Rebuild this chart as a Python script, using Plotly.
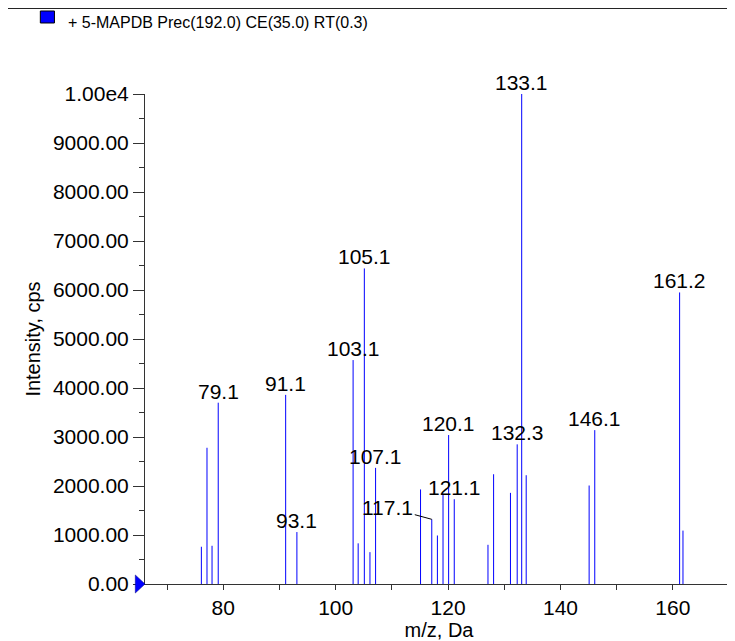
import plotly.graph_objects as go

# ---- data ----
mz = [76.1, 77.1, 78.0, 79.1, 91.1, 93.1, 103.1, 104.0, 105.1, 106.1, 107.1,
      115.1, 117.1, 118.1, 119.1, 120.1, 121.1, 127.1, 128.1, 131.1, 132.3,
      133.1, 133.9, 145.1, 146.1, 161.2, 161.8]
intensity = [760, 2780, 780, 3700, 3860, 1060, 4570, 830, 6440, 650, 2370,
             1930, 1320, 990, 1820, 3040, 1730, 800, 2240, 1860, 2850,
             10000, 2220, 2010, 3140, 5950, 1090]
label_mz = [79.1, 91.1, 93.1, 103.1, 105.1, 107.1, 117.1, 120.1, 121.1,
            132.3, 133.1, 146.1, 161.2]
leader_mz = [117.1]
y_tickvals = [0, 1000, 2000, 3000, 4000, 5000, 6000, 7000, 8000, 9000, 10000]
y_ticktext = ["0.00", "1000.00", "2000.00", "3000.00", "4000.00", "5000.00",
              "6000.00", "7000.00", "8000.00", "9000.00", "1.00e4"]
x_tickvals = [70, 80, 90, 100, 110, 120, 130, 140, 150, 160, 170]
x_ticktext = ["", "80", "", "100", "", "120", "", "140", "", "160", ""]
legend_text = "+ 5-MAPDB Prec(192.0) CE(35.0) RT(0.3)"

x_range = [66.07, 170.7]
y_range = [0, 10000]

FONT = "Liberation Sans, Arial, sans-serif"
BLUE = "#0000ff"

xs, ys = [], []
for m, h in zip(mz, intensity):
    xs += [m, m, None]
    ys += [0, h, None]

fig = go.Figure()
fig.add_trace(go.Scatter(x=xs, y=ys, mode="lines",
                         line=dict(color=BLUE, width=1),
                         showlegend=False, hoverinfo="skip"))

lookup = dict(zip(mz, intensity))
annotations = []
for m in label_mz:
    h = lookup[m]
    if m in leader_mz:
        annotations.append(dict(x=m, y=h, xref="x", yref="y", text=f"{m:.1f}",
                                showarrow=True, arrowhead=0, arrowwidth=1,
                                arrowcolor="#000000", ax=-44, ay=-12,
                                font=dict(family=FONT, size=21, color="#000000")))
    else:
        annotations.append(dict(x=m, y=h, xref="x", yref="y", text=f"{m:.1f}",
                                showarrow=False, yanchor="bottom", yshift=-2,
                                font=dict(family=FONT, size=21, color="#000000")))

# plot area: 588 x 490 px
annotations.append(dict(x=-0.135, y=1.1449, xref="paper", yref="paper",
                        text=legend_text, showarrow=False, xanchor="left",
                        yanchor="middle",
                        font=dict(family=FONT, size=16, color="#000000")))

shapes = [
    # legend swatch
    dict(type="rect", xref="paper", yref="paper",
         x0=-0.178, x1=-0.154, y0=1.1694, y1=1.1449,
         fillcolor=BLUE, line=dict(color="#000000", width=1)),
    # top border line
    dict(type="line", xref="paper", yref="paper",
         x0=-0.26, x1=1.01, y0=1.1745, y1=1.1745,
         line=dict(color="#222222", width=1)),
    # zero-level marker on the intensity axis
    dict(type="path", xref="paper", yref="paper",
         path="M -0.0165,0.0184 L 0,0 L -0.0165,-0.0184 Z",
         fillcolor=BLUE, line=dict(color="#000080", width=0.5)),
]

# the page body adds an 8px offset, so the figure is 8px smaller
fig.update_layout(
    width=727, height=633,
    margin=dict(l=137, r=2, t=86, b=57),
    paper_bgcolor="white", plot_bgcolor="white",
    font=dict(family=FONT, color="#000000"),
    annotations=annotations, shapes=shapes,
    showlegend=False,
)
fig.update_xaxes(range=x_range, tickmode="array", tickvals=x_tickvals,
                 ticktext=x_ticktext, ticks="outside", ticklen=5,
                 tickcolor="#333333", showline=True, linecolor="#333333",
                 linewidth=1, showgrid=False, zeroline=False,
                 tickfont=dict(family=FONT, size=21),
                 title=dict(text="m/z, Da", font=dict(family=FONT, size=20),
                            standoff=0))
fig.update_yaxes(range=y_range, tickmode="array", tickvals=y_tickvals,
                 ticktext=y_ticktext, ticks="outside", ticklen=11,
                 tickcolor="#333333", showline=True, linecolor="#333333",
                 linewidth=1, showgrid=False, zeroline=False,
                 minor=dict(dtick=500, ticks="outside", ticklen=5,
                            tickcolor="#333333", showgrid=False),
                 tickfont=dict(family=FONT, size=21),
                 title=dict(text="Intensity, cps", font=dict(family=FONT, size=20),
                            standoff=6))

fig.write_html("out.html")
